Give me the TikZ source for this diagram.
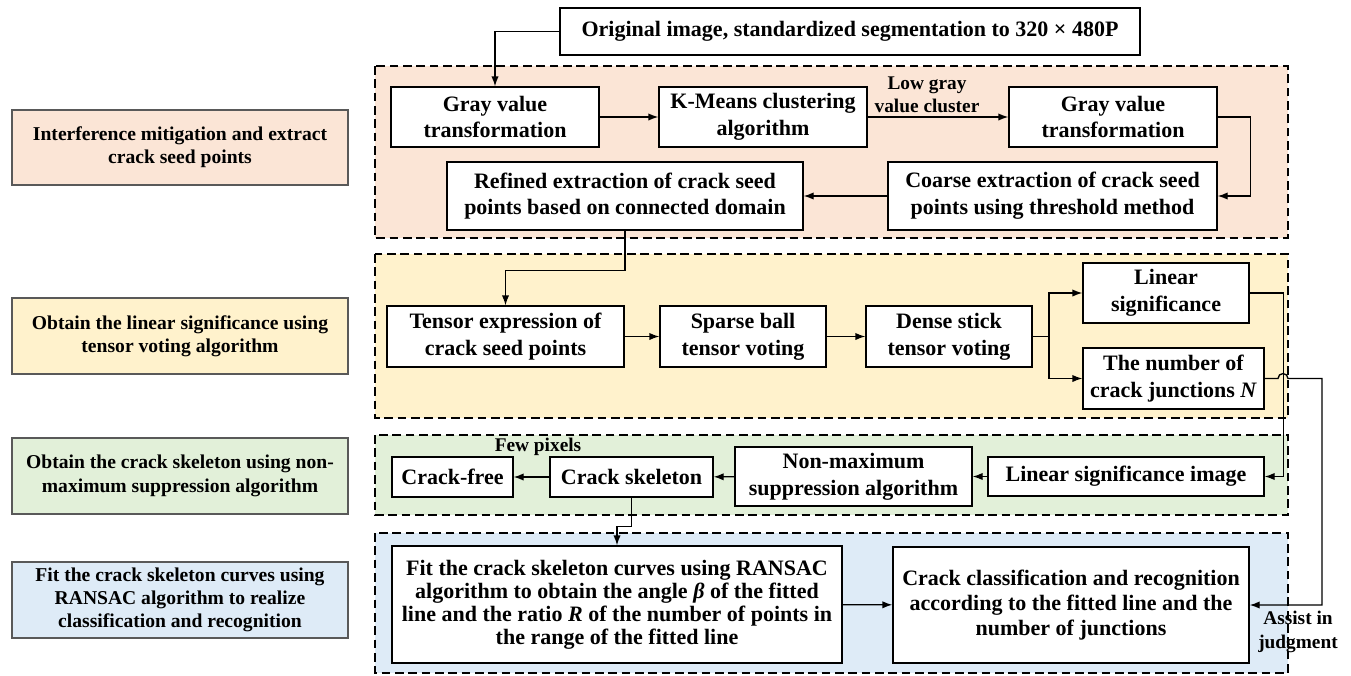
\documentclass[tikz,border=0pt]{standalone}
\usepackage{fontspec}
\setmainfont{Liberation Serif}
\usetikzlibrary{arrows.meta}
\definecolor{gorange}{HTML}{FBE5D6}
\definecolor{gyellow}{HTML}{FFF2CC}
\definecolor{ggreen}{HTML}{E2F0D9}
\definecolor{gblue}{HTML}{DEEBF7}
\begin{document}
\begin{tikzpicture}[x=0.75pt,y=-0.75pt,
 font=\bfseries\fontsize{16.5}{20}\selectfont,
 box/.style={draw, fill=white, line width=1pt, align=center, inner sep=0pt},
 wh/.style 2 args={minimum width=#1*0.75pt, minimum height=#2*0.75pt},
 grp/.style={draw, dash pattern=on 6.5pt off 3.5pt, line width=1pt},
 lbl/.style={draw=black!65, line width=1pt, align=center, inner sep=0pt, font=\bfseries\fontsize{14.7}{17.5}\selectfont},
 arr/.style={-{Latex[length=7.5pt,width=5.5pt]}, line width=1pt},
 ln/.style={line width=1pt},
 note/.style={align=center, inner sep=0pt, font=\bfseries\fontsize{14.5}{17.5}\selectfont}
]
\useasboundingbox (0,0) rectangle (1351,675);
% groups
\draw[grp, fill=gorange] (375,66) rectangle (1288,238);
\draw[grp, fill=gyellow] (375,254) rectangle (1288,418);
\draw[grp, fill=ggreen] (375,435) rectangle (1288,515);
\draw[grp, fill=gblue] (375,533) rectangle (1288,673);
% left labels
\node[lbl, fill=gorange, wh={336}{75}] (L1) at (180,147.5) {Interference mitigation and extract\\crack seed points};
\node[lbl, fill=gyellow, wh={336}{76}] (L2) at (180,336) {Obtain the linear significance using\\tensor voting algorithm};
\node[lbl, fill=ggreen, wh={336}{76}] (L3) at (180,476) {Obtain the crack skeleton using non-\\maximum suppression algorithm};
\node[lbl, fill=gblue, wh={336}{76}] (L4) at (180,600) {Fit the crack skeleton curves using\\RANSAC algorithm to realize\\classification and recognition};
% boxes
\node[box, wh={580}{47}] (top) at (850,31.5) {Original image, standardized segmentation to 320 × 480P};
\node[box, wh={208}{60}] (g1) at (495,117) {Gray value\\transformation};
\node[box, wh={208}{60}] (km) at (763,117) {K-Means clustering\\algorithm};
\node[box, wh={208}{60}] (g2) at (1113,117) {Gray value\\transformation};
\node[box, wh={329}{68}] (coarse) at (1052.5,196) {Coarse extraction of crack seed\\points using threshold method};
\node[box, wh={356}{68}] (ref) at (625,196) {Refined extraction of crack seed\\points based on connected domain};
\node[box, wh={237}{61}] (ten) at (505.5,336.5) {Tensor expression of\\crack seed points};
\node[box, wh={166}{61}] (sb) at (743,336.5) {Sparse ball\\tensor voting};
\node[box, wh={166}{61}] (ds) at (949,336.5) {Dense stick\\tensor voting};
\node[box, wh={166}{60}] (ls) at (1166,293) {Linear\\significance};
\node[box, wh={181}{61}] (nj) at (1173.5,378.5) {The number of\\crack junctions \textit{N}};
\node[box, wh={121}{40}] (cf) at (452.5,477) {Crack-free};
\node[box, wh={163}{40}] (cs) at (631.5,477) {Crack skeleton};
\node[box, wh={237}{59}] (nms) at (853.5,476.5) {Non-maximum\\suppression algorithm};
\node[box, wh={276}{39}] (lsi) at (1126,476.5) {Linear significance image};
\node[box, wh={450}{117}, font=\bfseries\fontsize{16.5}{17.2}\selectfont] (fit) at (617,604.5) {Fit the crack skeleton curves using RANSAC\\algorithm to obtain the angle \textit{β} of the fitted\\line and the ratio \textit{R} of the number of points in\\the range of the fitted line};
\node[box, wh={356}{116}, font=\bfseries\fontsize{16.5}{19}\selectfont] (cc) at (1071,605) {Crack classification and recognition\\according to the fitted line and the\\number of junctions};
% notes
\node[note] (low) at (927,95) {Low gray\\value cluster};
\node[note] (few) at (538,447) {Few pixels};
\node[note] (assist) at (1298,632) {Assist in\\judgment};
% connectors
\draw[arr] (top.west) -| (g1.north);
\draw[arr] (g1) -- (km);
\draw[arr] (km) -- (g2);
\draw[arr] (g2.east) -- ++(33,0) |- (coarse.east);
\draw[arr] (coarse) -- (ref);
\draw[arr] (ref.south) -- ++(0,40) -| (ten.north);
\draw[arr] (ten) -- (sb);
\draw[arr] (sb) -- (ds);
\coordinate (sp) at (1049,336.5);
\draw[ln] (ds.east) -- (sp);
\draw[arr] (sp) |- (ls.west);
\draw[arr] (sp) |- (nj.west);
\draw[arr] (ls.east) -- ++(34,0) |- (lsi.east);
\draw[arr] (nj.east) -- (1278,378.5) arc(180:360:5) -- (1322,378.5) |- (cc.east);
\draw[arr] (lsi) -- (nms);
\draw[arr] (nms) -- (cs);
\draw[arr] (cs) -- (cf);
\draw[arr] (cs.south) -- ++(0,29) -| (fit.north);
\draw[arr] (fit) -- (cc);
\end{tikzpicture}
\end{document}
